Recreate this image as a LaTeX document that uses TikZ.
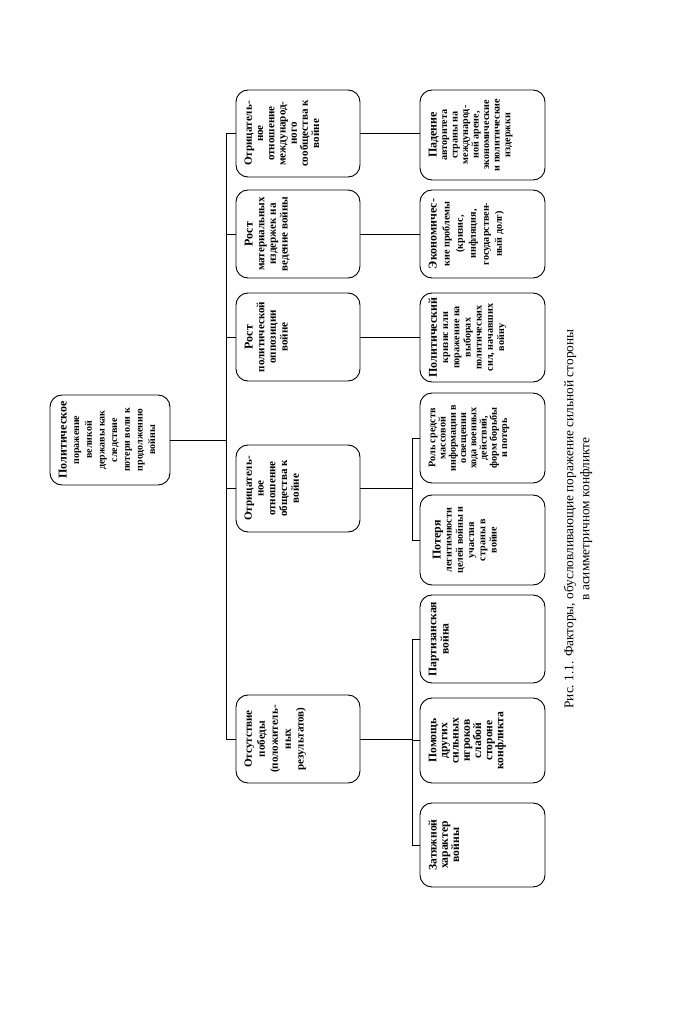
\documentclass[tikz,border=0pt]{standalone}
\usepackage{fontspec}
\setmainfont{Liberation Serif}
\newcommand{\bxt}[3]{\makebox[#1][c]{\parbox[c][#2][t]{200pt}{\centering\vspace*{6.5pt}#3\par}}}
\newcommand{\fl}[1]{{\fontsize{9}{9}\selectfont #1}}
\tikzset{
  box/.style={draw, rounded corners=9pt, rotate=90, inner sep=0pt, line width=0.7pt},
  rootf/.style={font=\bfseries\fontsize{7.5}{9.5}\selectfont},
  lvtwo/.style={font=\bfseries\fontsize{8.3}{#1}\selectfont},
  lvtwo/.default=8.4,
  lvthree/.style={font=\bfseries\fontsize{7.6}{#1}\selectfont},
  lvthree/.default=7.9,
  lvbig/.style={font=\bfseries\fontsize{8.7}{#1}\selectfont},
  lvbig/.default=8.4,
  conn/.style={line width=0.7pt}
}
\begin{document}
\begin{tikzpicture}[x=0.75pt,y=-0.75pt]
\useasboundingbox (0,0) rectangle (679,1032);
% root
\node[box,rootf] (r) at (110,440) {\bxt{67.5pt}{90pt}{\fl{Политическое}\\поражение\\великой\\державы как\\следствие\\потери воли к\\продолжению\\войны}};
% level 2
\node[box,lvtwo] (a1) at (298,133.5) {\bxt{65.25pt}{93pt}{Отрицатель-\\ное\\отношение\\международ-\\ного\\сообщества к\\войне}};
\node[box,lvtwo=8.8] (a2) at (298,234) {\bxt{66pt}{93pt}{\fl{Рост}\\материальных\\издержек на\\ведение войны}};
\node[box,lvtwo=8.8] (a3) at (298,337) {\bxt{66pt}{93pt}{\fl{Рост}\\политической\\оппозиции\\войне}};
\node[box,lvtwo=8.8] (a4) at (298,488.5) {\bxt{65.25pt}{93pt}{Отрицатель-\\ное\\отношение\\общества к\\войне}};
\node[box,lvtwo=9.7] (a5) at (298,739) {\bxt{66pt}{93pt}{Отсутствие\\победы\\(положитель-\\ных\\результатов)}};
% level 3
\node[box,lvthree] (b1) at (482.5,135) {\bxt{67.5pt}{93.75pt}{\fl{Падение}\\авторитета\\страны на\\международ-\\ной арене,\\экономические\\и политические\\издержки}};
\node[box,lvthree=9.8] (b2) at (482.5,234) {\bxt{66pt}{93.75pt}{\fl{Экономичес-}\\кие проблемы\\(кризис,\\инфляция,\\государствен-\\ный долг)}};
\node[box,lvthree=8.4] (b3) at (482.5,337.5) {\bxt{66.75pt}{93.75pt}{\fl{Политический}\\кризис или\\поражение на\\выборах\\политических\\сил, начавших\\войну}};
\node[box,lvthree=7.7] (b4) at (482.5,438) {\bxt{67.5pt}{93.75pt}{Роль средств\\массовой\\информации в\\освещении\\хода военных\\действий,\\форм борьбы\\и потерь}};
\node[box,lvthree=8.4] (b5) at (482.5,540) {\bxt{67.5pt}{93.75pt}{\vspace*{3pt}\fl{Потеря}\\легитимности\\целей войны и\\участия\\страны в\\войне}};
\node[box,lvbig=9.2] (b6) at (482.5,639) {\bxt{66pt}{93.75pt}{Партизанская\\война}};
\node[box,lvbig] (b7) at (482.5,740.5) {\bxt{63.75pt}{93.75pt}{Помощь\\других\\сильных\\игроков\\слабой\\стороне\\конфликта}};
\node[box,lvbig] (b8) at (482.5,845) {\bxt{63pt}{93.75pt}{Затяжной\\характер\\войны}};
% trunks
\coordinate (t) at (226,0);
\coordinate (t2) at (412,0);
\draw[conn] (r.south) -- (r.south -| t);
\draw[conn] (a1.north -| t) -- (a5.north -| t);
\foreach \n in {a1,a2,a3,a4,a5} \draw[conn] (\n.north) -- (\n.north -| t);
\draw[conn] (a1.south) -- (a1.south -| b1.north);
\draw[conn] (a2.south) -- (a2.south -| b2.north);
\draw[conn] (a3.south) -- (a3.south -| b3.north);
\draw[conn] (a4.south) -- (a4.south -| t2);
\draw[conn] (b4.north) -- (b4.north -| t2) -- (b5.north -| t2) -- (b5.north);
\draw[conn] (a5.south) -- (a5.south -| t2);
\draw[conn] (b6.north) -- (b6.north -| t2) -- (b8.north -| t2) -- (b8.north);
\draw[conn] (b7.north) -- (b7.north -| t2);
% caption
\node[rotate=90, font=\fontsize{10}{12}\selectfont, align=center] (cap) at (578,519) {Рис.~1.1. Факторы, обусловливающие поражение сильной стороны\\в асимметричном конфликте};
\end{tikzpicture}
\end{document}
